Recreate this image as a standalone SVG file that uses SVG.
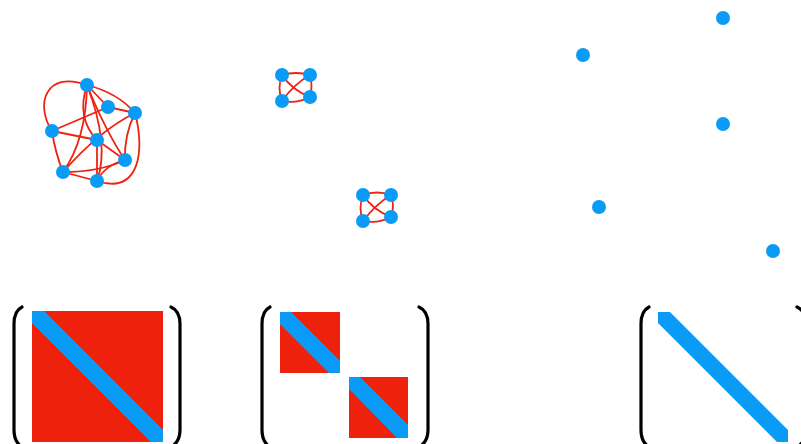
<svg xmlns="http://www.w3.org/2000/svg" width="801" height="444" viewBox="0 0 801 444">
<style>
.e{fill:none;stroke:#ee2211;stroke-width:1.8}
.n{fill:#0a9bf7}
.r{fill:#ee220c}
.b{fill:#0a9bf7}
.p{fill:none;stroke:#000;stroke-width:3.2;stroke-linecap:round}
</style>
<rect width="801" height="444" fill="#fff"/>
<g id="connectors">
<path class="e" d="M87,85 C45,70 35,105 52,131"/>
<path class="e" d="M87,85 L108,107"/>
<path class="e" d="M87,85 Q118,93 135,113"/>
<path class="e" d="M87,85 Q76,118 97,140"/>
<path class="e" d="M87,85 Q86,140 63,172"/>
<path class="e" d="M87,85 Q105,130 125,160"/>
<path class="e" d="M87,85 Q110,145 97,181"/>
<path class="e" d="M108,107 L135,113"/>
<path class="e" d="M52,131 L108,107"/>
<path class="e" d="M135,113 Q124,135 125,160"/>
<path class="e" d="M135,113 C145,150 140,195 97,181"/>
<path class="e" d="M135,113 Q100,130 63,172"/>
<path class="e" d="M52,131 L97,140"/>
<path class="e" d="M52,131 Q55,152 63,172"/>
<path class="e" d="M97,140 L97,181"/>
<path class="e" d="M97,140 L125,160"/>
<path class="e" d="M63,172 Q100,172 125,160"/>
<path class="e" d="M125,160 Q105,165 97,181"/>
<path class="e" d="M63,172 L97,181"/>
<path class="e" d="M282,75 Q296,71 310,75"/>
<path class="e" d="M282,75 Q277,88 282,101"/>
<path class="e" d="M310,75 Q313,86 310,97"/>
<path class="e" d="M282,101 Q297,104 310,97"/>
<path class="e" d="M282,75 Q292,90 310,97"/>
<path class="e" d="M282,101 Q294,84 310,75"/>
<path class="e" d="M363,195 Q377,190 391,195"/>
<path class="e" d="M363,195 Q358,208 363,221"/>
<path class="e" d="M391,195 Q395,206 391,217"/>
<path class="e" d="M363,221 Q378,224 391,217"/>
<path class="e" d="M363,195 Q373,210 391,217"/>
<path class="e" d="M363,221 Q376,204 391,195"/>
</g>
<g id="graph1">
<circle class="n" cx="87" cy="85" r="7"/>
<circle class="n" cx="108" cy="107" r="7"/>
<circle class="n" cx="135" cy="113" r="7"/>
<circle class="n" cx="52" cy="131" r="7"/>
<circle class="n" cx="97" cy="140" r="7"/>
<circle class="n" cx="125" cy="160" r="7"/>
<circle class="n" cx="63" cy="172" r="7"/>
<circle class="n" cx="97" cy="181" r="7"/>
</g>
<g id="graph2">
<circle class="n" cx="282" cy="75" r="7"/>
<circle class="n" cx="310" cy="75" r="7"/>
<circle class="n" cx="282" cy="101" r="7"/>
<circle class="n" cx="310" cy="97" r="7"/>
</g>
<g id="graph3">
<circle class="n" cx="363" cy="195" r="7"/>
<circle class="n" cx="391" cy="195" r="7"/>
<circle class="n" cx="363" cy="221" r="7"/>
<circle class="n" cx="391" cy="217" r="7"/>
</g>
<g id="graph4">
<circle class="n" cx="723" cy="18" r="7"/>
<circle class="n" cx="583" cy="55" r="7"/>
<circle class="n" cx="723" cy="124" r="7"/>
<circle class="n" cx="599" cy="207" r="7"/>
<circle class="n" cx="773" cy="251" r="7"/>
</g>
<g id="matrix1">
<rect class="r" x="32" y="311" width="131" height="131"/>
<polygon class="b" points="32,311 44,311 163,430 163,442 151,442 32,323"/>
<path class="p" d="M22,307 Q14,311 14,324 L14,430 Q14,442 22,447"/>
<path class="p" d="M171,307 Q180,311 180,324 L180,430 Q180,442 171,447"/>
</g>
<g id="matrix2">
<rect class="r" x="280" y="312" width="60" height="61"/>
<polygon class="b" points="280,312 291,312 340,361 340,373 329,373 280,324"/>
<rect class="r" x="349" y="377" width="59" height="61"/>
<polygon class="b" points="349,377 360,377 408,425 408,438 397,438 349,389"/>
<path class="p" d="M270,307 Q262,311 262,324 L262,430 Q262,442 270,447"/>
<path class="p" d="M419,307 Q428,311 428,324 L428,430 Q428,442 419,447"/>
</g>
<g id="matrix3">
<polygon class="b" points="658,312 670,312 788,430 788,442 777,442 658,323"/>
<path class="p" d="M649,307 Q641,311 641,324 L641,430 Q641,442 649,447"/>
<path class="p" d="M797,307 Q806,311 806,324 L806,430 Q806,442 797,447"/>
</g>
</svg>
